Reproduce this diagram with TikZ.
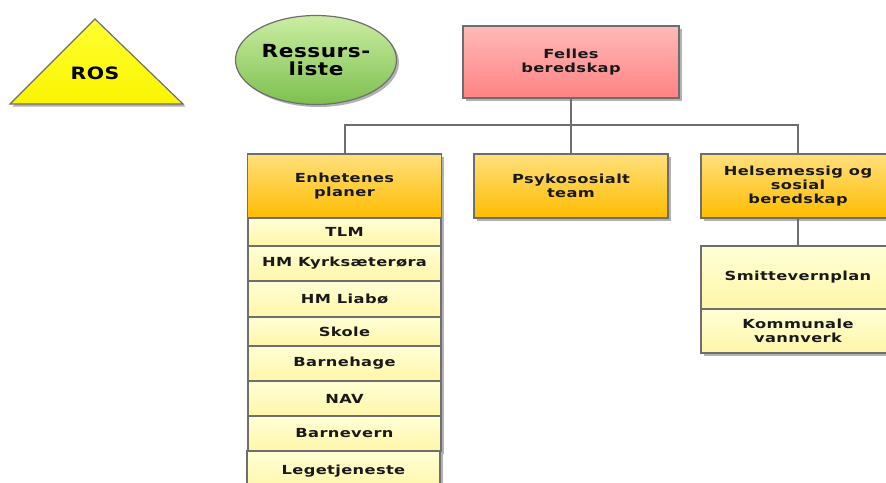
\documentclass[tikz,border=0pt]{standalone}
\usepackage{fontspec}
\newfontfamily\boxfont{DejaVu Sans}[FakeStretch=1.3,LetterSpace=3]
\newfontfamily\bigfont{DejaVu Sans}[FakeStretch=1.2,LetterSpace=3]
\usetikzlibrary{shapes.geometric,shadows}
\definecolor{edge}{HTML}{6E6E6E}
\definecolor{pinkT}{HTML}{FFB9B9}
\definecolor{pinkB}{HTML}{FF8282}
\definecolor{orT}{HTML}{FFE07C}
\definecolor{orB}{HTML}{FFBC00}
\definecolor{ltT}{HTML}{FFFFD6}
\definecolor{ltB}{HTML}{FFF6A8}
\definecolor{grT}{HTML}{CBEDA3}
\definecolor{grB}{HTML}{7DC04E}
\definecolor{yeT}{HTML}{FFFF30}
\definecolor{yeB}{HTML}{FAF400}
\tikzset{
  shad/.style={drop shadow={shadow xshift=2.5pt,shadow yshift=-2.5pt,opacity=0.3,fill=black}},
  base/.style={draw=edge,line width=1.2pt,inner sep=2pt,align=center,
    font=\boxfont\bfseries\fontsize{12.5}{14}\selectfont,text=black!90},
  pinkbox/.style={base,shad,rectangle,top color=pinkT,bottom color=pinkB},
  orbox/.style={base,shad,rectangle,top color=orT,bottom color=orB,minimum width=194pt,minimum height=64pt},
  ltbox/.style={base,shad,rectangle,top color=ltT,bottom color=ltB,minimum width=193pt},
  conn/.style={draw=edge,line width=2pt},
}
\begin{document}
\begin{tikzpicture}[x=1pt,y=-1pt]
\useasboundingbox (0,0) rectangle (886,482);
\clip (0,0) rectangle (886,482);
% ROS triangle
\path[draw=edge,line width=1.2pt,top color=yeT,bottom color=yeB,shad] (10,104) -- (95,19) -- (183,104) -- cycle;
\node[font=\bigfont\bfseries\fontsize{17}{20}\selectfont] (ros) at (95,73) {ROS};
% Ressursliste
\node[ellipse,draw=edge,line width=1.2pt,shad,top color=grT,bottom color=grB,minimum width=161pt,minimum height=89pt,
  align=center,font=\bigfont\bfseries\fontsize{18}{18}\selectfont,inner sep=0pt] (res) at (316,60) {Ressurs-\\liste};
% Felles
\node[pinkbox,minimum width=216pt,minimum height=72pt] (fel) at (571,62) {Felles\\beredskap};
% level 2
\node[orbox] (enh) at (344.5,186) {Enhetenes\\planer};
\node[orbox] (psy) at (571,186) {Psykososialt\\team};
\node[orbox] (hel) at (798,186) {Helsemessig og\\sosial\\beredskap};
% list
\node[ltbox,minimum height=28pt] (tlm) at (344.5,232) {TLM};
\node[ltbox,minimum height=35pt] (kyr) at (344.5,263.5) {HM Kyrksæterøra};
\node[ltbox,minimum height=36pt] (lia) at (344.5,299) {HM Liabø};
\node[ltbox,minimum height=29pt] (sko) at (344.5,331.5) {Skole};
\node[ltbox,minimum height=35pt] (bhg) at (344.5,363.5) {Barnehage};
\node[ltbox,minimum height=35pt] (nav) at (344.5,398.5) {NAV};
\node[ltbox,minimum height=35pt] (bv) at (344.5,433.5) {Barnevern};
\node[ltbox,minimum height=40pt] (lege) at (343.5,471) {Legetjeneste};
% right list
\node[ltbox,minimum width=194pt,minimum height=63pt] (smi) at (798,277.5) {Smittevernplan};
\node[ltbox,minimum width=194pt,minimum height=44pt] (kom) at (798,331) {Kommunale\\vannverk};
% connectors
\coordinate (bus) at (571,125);
\draw[conn] (fel.south) -- (bus);
\draw[conn] (bus) -| (enh.north);
\draw[conn] (bus) -| (hel.north);
\draw[conn] (bus) -- (psy.north);
\draw[conn] (hel.south) -- (smi.north);
\end{tikzpicture}
\end{document}
